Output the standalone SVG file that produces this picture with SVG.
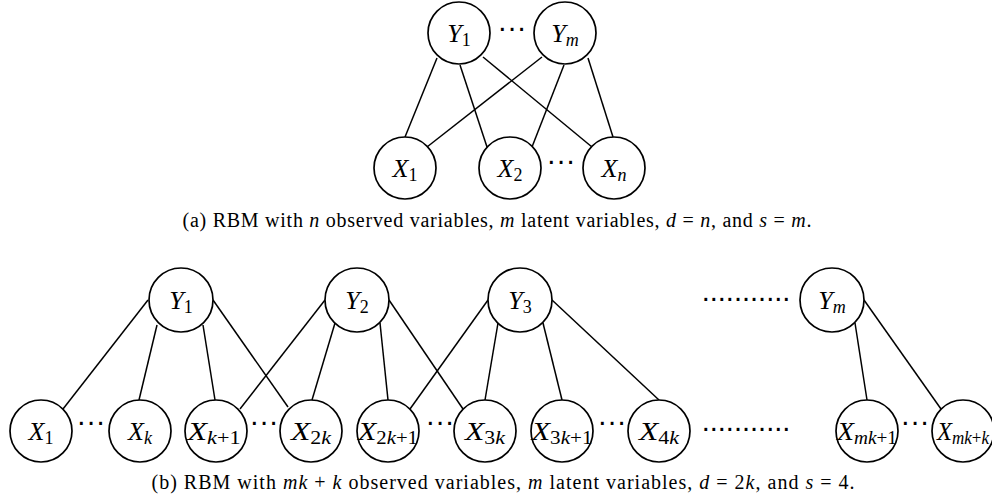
<svg xmlns="http://www.w3.org/2000/svg" width="992" height="498" viewBox="0 0 992 498">
<style>
.n{fill:#fff;stroke:#000;stroke-width:1.7}
.e line{stroke:#000;stroke-width:1.5}
.lb{font-family:"Liberation Serif",serif;font-size:26px;text-anchor:middle;fill:#000}
.i{font-style:italic}
.s{font-size:18px}
.d{font-family:"Liberation Sans",sans-serif;font-size:29px;text-anchor:middle;fill:#000}
.cap{font-family:"Liberation Serif",serif;font-size:20px;text-anchor:middle;fill:#000}
</style>
<rect width="992" height="498" fill="#fff"/>
<g id="connectors-a" class="e">
<line x1="437" y1="58" x2="405" y2="137"/>
<line x1="460" y1="65" x2="487" y2="147"/>
<line x1="483" y1="57" x2="592" y2="147"/>
<line x1="542" y1="57" x2="427" y2="147"/>
<line x1="564" y1="65" x2="532" y2="147"/>
<line x1="588" y1="58" x2="613" y2="137"/>
</g>
<g id="connectors-b" class="e">
<line x1="148" y1="300" x2="63" y2="409"/>
<line x1="157" y1="325" x2="139" y2="400"/>
<line x1="203" y1="325" x2="215" y2="400"/>
<line x1="213" y1="300" x2="288" y2="407"/>
<line x1="325" y1="300" x2="240" y2="409"/>
<line x1="335" y1="323" x2="312" y2="400"/>
<line x1="380" y1="323" x2="388" y2="400"/>
<line x1="389" y1="300" x2="463" y2="409"/>
<line x1="488" y1="300" x2="410" y2="409"/>
<line x1="498" y1="323" x2="485" y2="400"/>
<line x1="543" y1="323" x2="562" y2="400"/>
<line x1="552" y1="300" x2="659" y2="400"/>
<line x1="855" y1="323" x2="867" y2="400"/>
<line x1="864" y1="300" x2="941" y2="409"/>
</g>
<g id="a-Y1"><circle class="n" cx="459" cy="33" r="31"/><text class="lb" x="459" y="42"><tspan class="i">Y</tspan><tspan class="s" dy="4">1</tspan></text></g>
<g id="a-Ym"><circle class="n" cx="565" cy="33" r="31"/><text class="lb" x="565" y="42"><tspan class="i">Y</tspan><tspan class="s i" dy="4">m</tspan></text></g>
<g id="a-X1"><circle class="n" cx="405" cy="168" r="31"/><text class="lb" x="405" y="177"><tspan class="i">X</tspan><tspan class="s" dy="4">1</tspan></text></g>
<g id="a-X2"><circle class="n" cx="510" cy="168" r="31"/><text class="lb" x="510" y="177"><tspan class="i">X</tspan><tspan class="s" dy="4">2</tspan></text></g>
<g id="a-Xn"><circle class="n" cx="614" cy="168" r="31"/><text class="lb" x="614" y="177"><tspan class="i">X</tspan><tspan class="s i" dy="4">n</tspan></text></g>
<text class="d" x="512" y="37">···</text>
<text class="d" x="561" y="170">···</text>
<text class="cap" x="497" y="227" textLength="629" lengthAdjust="spacing">(a) RBM with <tspan class="i">n</tspan> observed variables, <tspan class="i">m</tspan> latent variables, <tspan class="i">d</tspan> = <tspan class="i">n</tspan>, and <tspan class="i">s</tspan> = <tspan class="i">m</tspan>.</text>
<g id="b-Y1"><circle class="n" cx="181" cy="300" r="32"/><text class="lb" x="181" y="309"><tspan class="i">Y</tspan><tspan class="s" dy="4">1</tspan></text></g>
<g id="b-Y2"><circle class="n" cx="357" cy="300" r="32"/><text class="lb" x="357" y="309"><tspan class="i">Y</tspan><tspan class="s" dy="4">2</tspan></text></g>
<g id="b-Y3"><circle class="n" cx="520" cy="300" r="32"/><text class="lb" x="520" y="309"><tspan class="i">Y</tspan><tspan class="s" dy="4">3</tspan></text></g>
<g id="b-Ym"><circle class="n" cx="832" cy="300" r="32"/><text class="lb" x="832" y="309"><tspan class="i">Y</tspan><tspan class="s i" dy="4">m</tspan></text></g>
<g id="b-X1"><circle class="n" cx="41" cy="431" r="31"/><text class="lb" x="41" y="440"><tspan class="i">X</tspan><tspan class="s" dy="4">1</tspan></text></g>
<g id="b-Xk"><circle class="n" cx="140" cy="431" r="31"/><text class="lb" x="140" y="440"><tspan class="i">X</tspan><tspan class="s i" dy="4">k</tspan></text></g>
<g id="b-Xk1"><circle class="n" cx="216" cy="431" r="31"/><text class="lb" x="214" y="440" textLength="53" lengthAdjust="spacingAndGlyphs"><tspan class="i">X</tspan><tspan class="s" dy="4"><tspan class="i">k</tspan>+1</tspan></text></g>
<g id="b-X2k"><circle class="n" cx="311" cy="431" r="31"/><text class="lb" x="311" y="440" textLength="40" lengthAdjust="spacingAndGlyphs"><tspan class="i">X</tspan><tspan class="s" dy="4">2<tspan class="i">k</tspan></tspan></text></g>
<g id="b-X2k1"><circle class="n" cx="388" cy="431" r="31"/><text class="lb" x="388" y="440" textLength="60" lengthAdjust="spacingAndGlyphs"><tspan class="i">X</tspan><tspan class="s" dy="4">2<tspan class="i">k</tspan>+1</tspan></text></g>
<g id="b-X3k"><circle class="n" cx="485" cy="431" r="31"/><text class="lb" x="485" y="440" textLength="40" lengthAdjust="spacingAndGlyphs"><tspan class="i">X</tspan><tspan class="s" dy="4">3<tspan class="i">k</tspan></tspan></text></g>
<g id="b-X3k1"><circle class="n" cx="562" cy="431" r="31"/><text class="lb" x="562" y="440" textLength="61" lengthAdjust="spacingAndGlyphs"><tspan class="i">X</tspan><tspan class="s" dy="4">3<tspan class="i">k</tspan>+1</tspan></text></g>
<g id="b-X4k"><circle class="n" cx="659" cy="431" r="31"/><text class="lb" x="659" y="440" textLength="40" lengthAdjust="spacingAndGlyphs"><tspan class="i">X</tspan><tspan class="s" dy="4">4<tspan class="i">k</tspan></tspan></text></g>
<g id="b-Xmk1"><circle class="n" cx="867" cy="431" r="31"/><text class="lb" x="867" y="440" textLength="60" lengthAdjust="spacingAndGlyphs"><tspan class="i">X</tspan><tspan class="s" dy="4"><tspan class="i">mk</tspan>+1</tspan></text></g>
<g id="b-Xmkk"><circle class="n" cx="963" cy="431" r="31"/><text class="lb" x="963" y="440" textLength="52" lengthAdjust="spacingAndGlyphs"><tspan class="i">X</tspan><tspan class="s" dy="4"><tspan class="i">mk</tspan>+<tspan class="i">k</tspan></tspan></text></g>
<text class="d" x="91" y="431">···</text>
<text class="d" x="264" y="431">···</text>
<text class="d" x="440" y="431">···</text>
<text class="d" x="612" y="431">···</text>
<text class="d" x="915" y="431">···</text>
<text class="d" x="746" y="301">...........</text>
<text class="d" x="746" y="431">...........</text>
<text class="cap" x="503" y="489" textLength="703" lengthAdjust="spacing">(b) RBM with <tspan class="i">mk</tspan> + <tspan class="i">k</tspan> observed variables, <tspan class="i">m</tspan> latent variables, <tspan class="i">d</tspan> = 2<tspan class="i">k</tspan>, and <tspan class="i">s</tspan> = 4.</text>
</svg>
